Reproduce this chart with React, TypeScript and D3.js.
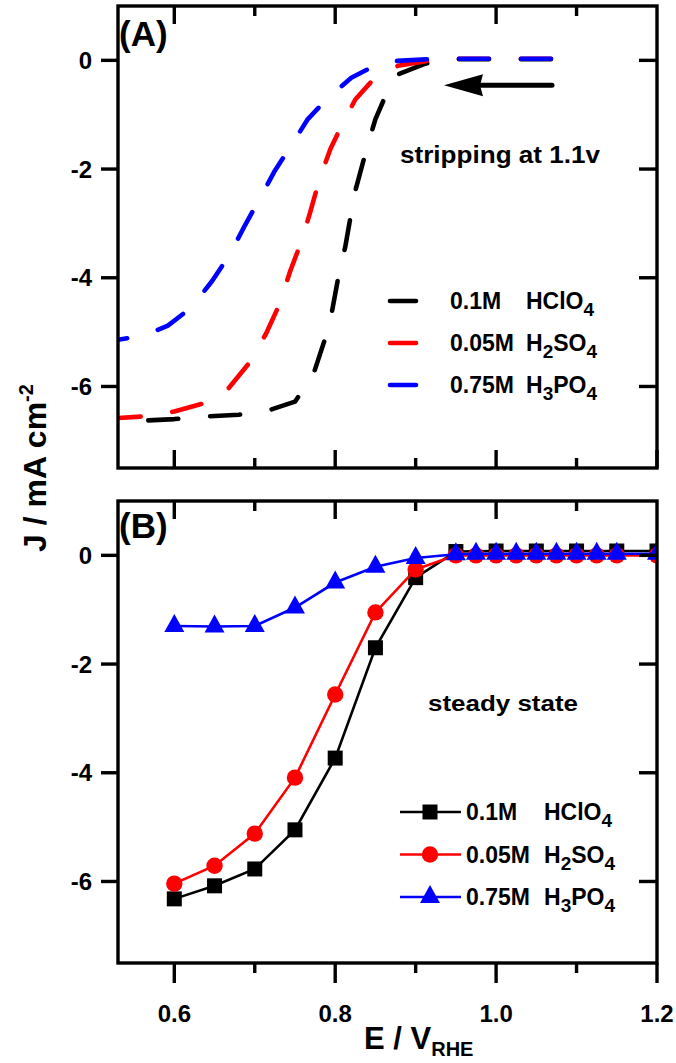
import React from "react";
import * as d3 from "d3";

// ---------- data ----------
// Panel A: stripping at 1.1 V (dashed curves), [E, J]
const stripHClO4: [number, number][] = [
  [0.53, -6.65], [0.6, -6.6], [0.64, -6.55], [0.68, -6.52], [0.715, -6.45], [0.75, -6.28],
  [0.773, -5.77], [0.787, -5.14], [0.796, -4.62], [0.804, -3.98], [0.8125, -3.43], [0.82, -2.8],
  [0.825, -2.4], [0.839, -1.63], [0.85, -1.08], [0.8635, -0.62], [0.878, -0.26], [0.912, -0.06],
  [0.95, 0.02], [1.1, 0.02],
];
const stripH2SO4: [number, number][] = [
  [0.53, -6.58], [0.563, -6.55], [0.6, -6.46], [0.634, -6.32], [0.666, -6.06], [0.693, -5.57],
  [0.714, -5.03], [0.73, -4.51], [0.744, -3.88], [0.7575, -3.35], [0.769, -2.79], [0.78, -2.21],
  [0.794, -1.63], [0.809, -1.17], [0.825, -0.72], [0.848, -0.34], [0.878, -0.1], [0.914, -0.01],
  [0.95, 0.03], [1.1, 0.03],
];
const stripH3PO4: [number, number][] = [
  [0.53, -5.14], [0.563, -5.06], [0.592, -4.88], [0.621, -4.55], [0.647, -4.06], [0.669, -3.57],
  [0.688, -3.03], [0.706, -2.55], [0.725, -2.03], [0.746, -1.55], [0.766, -1.08], [0.789, -0.72],
  [0.82, -0.32], [0.857, -0.04], [0.877, -0.01], [0.915, 0.02], [0.95, 0.03], [1.1, 0.03],
];

// Panel B: steady state
const steadyE_HClO4 = [0.6, 0.65, 0.7, 0.75, 0.8, 0.85, 0.9, 0.95, 1.0, 1.05, 1.1, 1.15, 1.2];
const steadyJ_HClO4 = [-6.32, -6.08, -5.77, -5.05, -3.73, -1.7, -0.41, 0.07, 0.08, 0.08, 0.08, 0.08, 0.08];
const steadyE_H2SO4 = [0.6, 0.65, 0.7, 0.75, 0.8, 0.85, 0.9, 0.95, 0.975, 1.0, 1.025, 1.05, 1.075, 1.1, 1.125, 1.15, 1.2];
const steadyJ_H2SO4 = [-6.04, -5.71, -5.12, -4.09, -2.56, -1.05, -0.26, 0.0, 0.0, 0.0, 0.0, 0.0, 0.0, 0.0, 0.0, 0.0, 0.0];
const steadyE_H3PO4 = [0.6, 0.65, 0.7, 0.75, 0.8, 0.85, 0.9, 0.95, 0.975, 1.0, 1.025, 1.05, 1.075, 1.1, 1.125, 1.15, 1.2];
const steadyJ_H3PO4 = [-1.3, -1.31, -1.3, -0.96, -0.5, -0.21, -0.05, 0.02, 0.03, 0.03, 0.03, 0.03, 0.03, 0.03, 0.03, 0.03, 0.03];

const xTicksMajor = [0.6, 0.8, 1.0, 1.2];
const xTicksMinor = [0.7, 0.9, 1.1];
const yTicks = [0, -2, -4, -6];

const FONT = "'Liberation Sans', Arial, Helvetica, sans-serif";

// ---------- layout ----------
const W = 676;
const H = 1063;
const left = 118;
const right = 657;
const topA = 6, botA = 468;
const topB = 501, botB = 963;

const x = d3.scaleLinear().domain([0.53, 1.2]).range([left, right]);
const yA = d3.scaleLinear().domain([-7.5, 1]).range([botA, topA]);
const yB = d3.scaleLinear().domain([-7.5, 1]).range([botB, topB]);

const MAJ = 18;
const MIN = 10;
const TW = 3.4;
const TICK_COLOR = "#000";

function Ticks({ y, top, bottom, outBottom }: { y: d3.ScaleLinear<number, number>; top: number; bottom: number; outBottom: boolean }) {
  const els: React.ReactNode[] = [];
  xTicksMajor.forEach((t, i) => {
    if (t < 1.2) els.push(<line key={"a" + i} x1={x(t)} x2={x(t)} y1={top} y2={top + MAJ} stroke={TICK_COLOR} strokeWidth={TW} />);
    els.push(<line key={"b" + i} x1={x(t)} x2={x(t)} y1={bottom} y2={outBottom ? bottom + MAJ + 2 : bottom - MAJ} stroke={TICK_COLOR} strokeWidth={TW} />);
  });
  xTicksMinor.forEach((t, i) => {
    els.push(<line key={"c" + i} x1={x(t)} x2={x(t)} y1={top} y2={top + MIN} stroke={TICK_COLOR} strokeWidth={TW} />);
    els.push(<line key={"d" + i} x1={x(t)} x2={x(t)} y1={bottom} y2={outBottom ? bottom + MIN : bottom - MIN} stroke={TICK_COLOR} strokeWidth={TW} />);
  });
  yTicks.forEach((t, i) => {
    els.push(<line key={"e" + i} x1={left - 17} x2={left} y1={y(t)} y2={y(t)} stroke={TICK_COLOR} strokeWidth={TW} />);
    els.push(<line key={"f" + i} x1={right - MAJ} x2={right} y1={y(t)} y2={y(t)} stroke={TICK_COLOR} strokeWidth={TW} />);
  });
  return <g>{els}</g>;
}

function YLabels({ y }: { y: d3.ScaleLinear<number, number> }) {
  return (
    <g fontFamily={FONT} fontWeight="bold" fontSize={24} textAnchor="end">
      {yTicks.map((t) => (
        <text key={t} x={92} y={y(t) + 8.5}>
          {t === 0 ? "0" : "-" + Math.abs(t)}
        </text>
      ))}
    </g>
  );
}

function Chem({ base, sub }: { base: string[]; sub: string[] }) {
  const parts: React.ReactNode[] = [];
  base.forEach((b, i) => {
    parts.push(<tspan key={"b" + i} dy={i > 0 ? -7 : 0}>{b}</tspan>);
    if (sub[i]) parts.push(<tspan key={"s" + i} fontSize={19} dy={7}>{sub[i]}</tspan>);
  });
  return <>{parts}</>;
}

const legendNames = [
  { conc: "0.1M", base: ["HClO"], sub: ["4"], color: "#000" },
  { conc: "0.05M", base: ["H", "SO"], sub: ["2", "4"], color: "#ff0000" },
  { conc: "0.75M", base: ["H", "PO"], sub: ["3", "4"], color: "#0000ff" },
];

function Marker({ kind, cx, cy, color }: { kind: string; cx: number; cy: number; color: string }) {
  if (kind === "square") return <rect x={cx - 7.5} y={cy - 7.5} width={15} height={15} fill={color} />;
  if (kind === "circle") return <circle cx={cx} cy={cy} r={8.2} fill={color} />;
  return <path d={`M${cx},${cy - 12}L${cx + 10},${cy + 6}L${cx - 10},${cy + 6}Z`} fill={color} />;
}

function lengthTo(pts: [number, number][], xs: number): number {
  let L = 0;
  for (let i = 1; i < pts.length; i++) {
    const x0 = x(pts[i - 1][0]), y0 = yA(pts[i - 1][1]);
    const x1 = x(pts[i][0]), y1 = yA(pts[i][1]);
    const seg = Math.hypot(x1 - x0, y1 - y0);
    if (x1 >= xs) {
      const f = (xs - x0) / (x1 - x0);
      return L + seg * Math.max(0, Math.min(1, f));
    }
    L += seg;
  }
  return L;
}

export default function App() {
  const lineA = d3.line<[number, number]>().x((d) => x(d[0])).y((d) => yA(d[1]));
  const lineB = d3.line<[number, number]>().x((d) => x(d[0])).y((d) => yB(d[1]));

  const stripSeries = [
    { data: stripHClO4, color: "#000" },
    { data: stripH2SO4, color: "#ff0000" },
    { data: stripH3PO4, color: "#0000ff" },
  ];
  const steadySeries = [
    { E: steadyE_HClO4, J: steadyJ_HClO4, color: "#000", kind: "square" },
    { E: steadyE_H2SO4, J: steadyJ_H2SO4, color: "#ff0000", kind: "circle" },
    { E: steadyE_H3PO4, J: steadyJ_H3PO4, color: "#0000ff", kind: "triangle" },
  ];

  const DASH = 30, GAP = 32, PERIOD = DASH + GAP;
  const dashStartX = x(0.951) + 2.25;
  const arrowY = yA(-0.46);

  return (
    <svg width={W} height={H} style={{ display: "block", position: "absolute", left: 0, top: 0, background: "#fff" }}>
      <defs>
        <clipPath id="clipA">
          <rect x={left} y={topA} width={right - left} height={botA - topA} />
        </clipPath>
        <clipPath id="clipB">
          <rect x={left} y={topB} width={right - left} height={botB - topB} />
        </clipPath>
      </defs>
      <rect x={0} y={0} width={W} height={H} fill="#fff" />

      {/* Panel A */}
      <g clipPath="url(#clipA)">
        {stripSeries.map((s, i) => {
          const L = lengthTo(s.data, dashStartX);
          const off = ((PERIOD - (L % PERIOD)) % PERIOD);
          return (
            <path key={i} d={lineA(s.data) || ""} fill="none" stroke={s.color} strokeWidth={4.6}
              strokeDasharray={`${DASH} ${GAP}`} strokeDashoffset={off} strokeLinecap="round" strokeLinejoin="round" />
          );
        })}
      </g>
      <rect x={left} y={topA} width={right - left} height={botA - topA} fill="none" stroke="#000" strokeWidth={TW} />
      <Ticks y={yA} top={topA} bottom={botA} outBottom={false} />
      <YLabels y={yA} />
      <text x={119} y={46} fontFamily={FONT} fontWeight="bold" fontSize={35}>(A)</text>
      {/* arrow */}
      <line x1={552} x2={478} y1={arrowY} y2={arrowY} stroke="#000" strokeWidth={5} strokeLinecap="round" />
      <path d={`M444,${arrowY}L483,${arrowY - 11}L480,${arrowY}L483,${arrowY + 11}Z`} fill="#000" />
      <text x={400} y={163} fontFamily={FONT} fontWeight="bold" fontSize={23} textLength={200} lengthAdjust="spacingAndGlyphs">stripping at 1.1v</text>
      {/* legend A */}
      {legendNames.map((l, i) => {
        const cy = 301 + i * 42;
        return (
          <g key={i}>
            <line x1={390} x2={416} y1={cy} y2={cy} stroke={l.color} strokeWidth={4.6} strokeLinecap="round" />
            <text x={450} y={cy + 8} fontFamily={FONT} fontWeight="bold" fontSize={23}>{l.conc}</text>
            <text x={526} y={cy + 8} fontFamily={FONT} fontWeight="bold" fontSize={23}>
              <Chem base={l.base} sub={l.sub} />
            </text>
          </g>
        );
      })}

      {/* Panel B */}
      <g clipPath="url(#clipB)">
        {steadySeries.map((s, i) => {
          const pts: [number, number][] = s.E.map((e, k) => [e, s.J[k]]);
          return (
            <g key={i}>
              <path d={lineB(pts) || ""} fill="none" stroke={s.color} strokeWidth={2.6} />
              {pts.map((p, k) => (
                <Marker key={k} kind={s.kind} cx={x(p[0])} cy={yB(p[1])} color={s.color} />
              ))}
            </g>
          );
        })}
      </g>
      <rect x={left} y={topB} width={right - left} height={botB - topB} fill="none" stroke="#000" strokeWidth={TW} />
      <Ticks y={yB} top={topB} bottom={botB} outBottom={true} />
      <YLabels y={yB} />
      <text x={119} y={538} fontFamily={FONT} fontWeight="bold" fontSize={35}>(B)</text>
      <text x={428} y={711} fontFamily={FONT} fontWeight="bold" fontSize={22} textLength={150} lengthAdjust="spacingAndGlyphs">steady state</text>
      {/* legend B */}
      {legendNames.map((l, i) => {
        const cy = 812 + i * 42.5;
        const kind = ["square", "circle", "triangle"][i];
        return (
          <g key={i}>
            <line x1={400} x2={461} y1={cy} y2={cy} stroke={l.color} strokeWidth={2.6} />
            <Marker kind={kind} cx={430} cy={cy} color={l.color} />
            <text x={466} y={cy + 8} fontFamily={FONT} fontWeight="bold" fontSize={23}>{l.conc}</text>
            <text x={544} y={cy + 8} fontFamily={FONT} fontWeight="bold" fontSize={23}>
              <Chem base={l.base} sub={l.sub} />
            </text>
          </g>
        );
      })}

      {/* x tick labels */}
      <g fontFamily={FONT} fontWeight="bold" fontSize={24} textAnchor="middle">
        {xTicksMajor.map((t) => (
          <text key={t} x={x(t)} y={1022}>{t.toFixed(1)}</text>
        ))}
      </g>
      {/* axis titles */}
      <text x={364} y={1049} fontFamily={FONT} fontWeight="bold" fontSize={31}>
        E / V<tspan fontSize={20} dy={7}>RHE</tspan>
      </text>
      <text transform="translate(46,468) rotate(-90)" textAnchor="middle" fontFamily={FONT} fontWeight="bold" fontSize={32}>
        J / mA cm<tspan fontSize={20} dy={-13}>-2</tspan>
      </text>
    </svg>
  );
}
